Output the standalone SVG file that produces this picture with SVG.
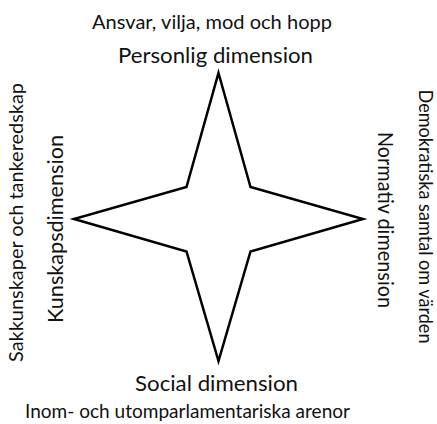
<svg xmlns="http://www.w3.org/2000/svg" width="437" height="424" viewBox="0 0 437 424">
<style>
text{font-family:Lato,"Open Sans","Liberation Sans",sans-serif;fill:#111;text-anchor:middle}
.dim{font-size:22px}
.desc{font-size:19px}
.star{fill:#fff;stroke:#000;stroke-width:2.5;stroke-linejoin:miter}
</style>
<rect width="437" height="424" fill="#fff"/>
<g id="star">
<path class="star" d="M218.5,73 L250.5,187 L363,219 L250.5,251.5 L218.5,361 L186.5,251.5 L74,219 L186.5,187 Z"/>
</g>
<g id="personlig">
<text class="desc" x="212" y="29" textLength="240" lengthAdjust="spacingAndGlyphs">Ansvar, vilja, mod och hopp</text>
<text class="dim" x="215.5" y="63" textLength="195" lengthAdjust="spacingAndGlyphs">Personlig dimension</text>
</g>
<g id="social">
<text class="dim" x="216.5" y="391" textLength="163" lengthAdjust="spacingAndGlyphs">Social dimension</text>
<text class="desc" x="187.5" y="418" textLength="325" lengthAdjust="spacingAndGlyphs">Inom- och utomparlamentariska arenor</text>
</g>
<g id="kunskap">
<text class="desc" transform="translate(23,222.5) rotate(-90)" x="0" y="0" textLength="279" lengthAdjust="spacingAndGlyphs">Sakkunskaper och tankeredskap</text>
<text class="dim" transform="translate(63,229) rotate(-90)" x="0" y="0" textLength="188" lengthAdjust="spacingAndGlyphs">Kunskapsdimension</text>
</g>
<g id="normativ">
<text class="desc" transform="translate(419,216.5) rotate(90)" x="0" y="0" textLength="254" lengthAdjust="spacingAndGlyphs">Demokratiska samtal om värden</text>
<text class="dim" transform="translate(378,220) rotate(90)" x="0" y="0" textLength="176" lengthAdjust="spacingAndGlyphs">Normativ dimension</text>
</g>
</svg>
